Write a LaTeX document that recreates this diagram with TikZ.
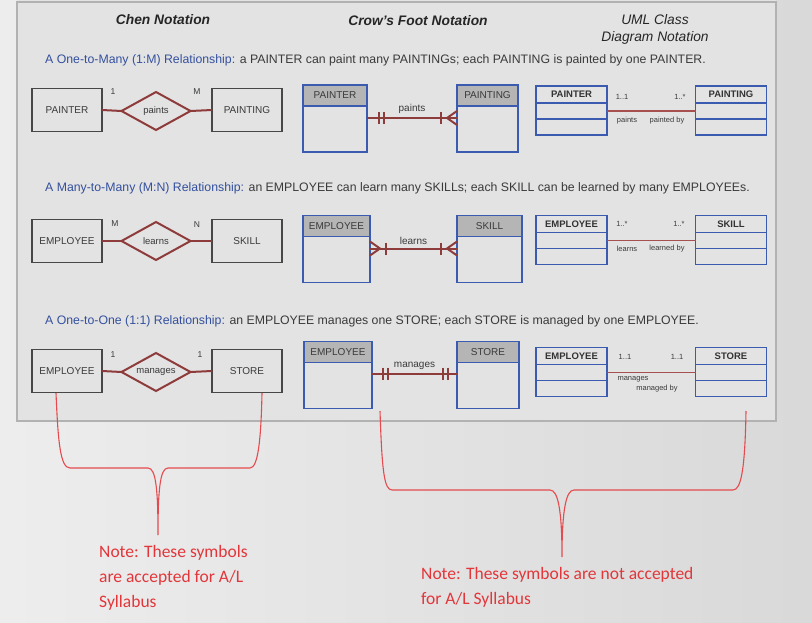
\documentclass[tikz,border=0pt]{standalone}
\usepackage{fontspec}
\setmainfont{Liberation Sans}
\newfontfamily\notefont{Carlito}
\usetikzlibrary{shapes.geometric,positioning}
\definecolor{relred}{HTML}{8E3B3B}
\definecolor{umlred}{HTML}{A65050}
\definecolor{entblue}{HTML}{3A5BB0}
\definecolor{headgray}{HTML}{B5B5B5}
\definecolor{boxgray}{HTML}{474747}
\definecolor{txtgray}{HTML}{3A3A3A}
\definecolor{titleblue}{HTML}{34509E}
\definecolor{notered}{HTML}{E2363A}
\definecolor{panelbg}{HTML}{E3E3E3}
\tikzset{
  chenbox/.style={draw=boxgray, line width=1.6pt, minimum width=70pt, minimum height=43pt,
    inner sep=0pt, outer sep=0pt, font=\fontsize{10}{11}\selectfont, text=txtgray},
  chenrel/.style={diamond, draw=relred, line width=2pt, minimum width=69pt, minimum height=38pt,
    inner sep=0pt, outer sep=0pt, aspect=1.8, font=\fontsize{9.5}{10}\selectfont, text=txtgray},
  cfhead/.style={draw=entblue, fill=headgray, line width=1.4pt, minimum height=21pt,
    inner sep=0pt, outer sep=0pt, font=\fontsize{10}{11}\selectfont, text=txtgray},
  cfbody/.style={draw=entblue, line width=1.4pt, minimum height=46pt, inner sep=0pt, outer sep=0pt},
  umlhead/.style={draw=entblue, line width=1.8pt, minimum width=71pt, minimum height=17pt,
    inner sep=0pt, outer sep=0pt, font=\bfseries\fontsize{9.5}{10}\selectfont, text=black!80},
  umlrow/.style={draw=entblue, line width=1.8pt, minimum width=71pt, minimum height=16pt,
    inner sep=0pt, outer sep=0pt},
  rel/.style={draw=relred, line width=2pt},
  cflabel/.style={above=3pt, font=\fontsize{10}{11}\selectfont, text=txtgray, inner sep=0pt},
  umlline/.style={draw=umlred, line width=1.5pt},
  mult/.style={font=\fontsize{7.5}{8}\selectfont, text=txtgray, inner sep=0pt},
  card/.style={font=\fontsize{8.5}{9}\selectfont, text=txtgray, inner sep=0pt},
  reltext/.style={anchor=west, inner sep=0pt, font=\fontsize{12.3}{13}\selectfont, text=txtgray},
  heading/.style={inner sep=0pt, font=\itshape\fontsize{13.8}{17}\selectfont, text=black!85},
  brace/.style={draw=notered!90, line width=1.1pt},
  note/.style={anchor=north west, align=left, inner sep=0pt, text=notered,
    font=\notefont\fontsize{17.5}{25}\selectfont}
}
\begin{document}
\begin{tikzpicture}[x=1pt,y=-1pt]
  \useasboundingbox (0,0) rectangle (812,623);
  % Bakgrunn
  \shade[left color=gray!14, right color=gray!30] (0,0) rectangle (812,623);
  \fill[panelbg] (17,0) rectangle (776,421);
  \draw[gray!60, line width=1.8pt] (17,2) -- (776,2) -- (776,421) -- (17,421) -- cycle;

  % Overskrifter
  \node[heading, font=\bfseries\itshape\fontsize{13.8}{17}\selectfont] (hchen) at (163,20) {Chen Notation};
  \node[heading, font=\bfseries\itshape\fontsize{13.8}{17}\selectfont] (hcf) at (418,21) {Crow’s Foot Notation};
  \node[heading, align=center] (huml) at (655,29) {UML Class\\Diagram Notation};

  % Relasjonstekster
  \node[reltext] (r1) at (45,60) {\textcolor{titleblue}{A One-to-Many (1:M) Relationship:} a PAINTER can paint many PAINTINGs; each PAINTING is painted by one PAINTER.};
  \node[reltext] (r2) at (45,188) {\textcolor{titleblue}{A Many-to-Many (M:N) Relationship:} an EMPLOYEE can learn many SKILLs; each SKILL can be learned by many EMPLOYEEs.};
  \node[reltext] (r3) at (45,321) {\textcolor{titleblue}{A One-to-One (1:1) Relationship:} an EMPLOYEE manages one STORE; each STORE is managed by one EMPLOYEE.};

  % Chen: 1:M
  \node[chenbox] (ca1) at (67,110) {PAINTER};
  \node[chenrel] (cd1) at (156,111) {paints};
  \node[chenbox] (cb1) at (247,110) {PAINTING};
  \draw[rel] (ca1.east) -- (cd1.west);
  \draw[rel] (cd1.east) -- (cb1.west);
  \node[card] at (113,92) {1};
  \node[card] at (197,92) {M};
  % Chen: M:N
  \node[chenbox] (ca2) at (67,241) {EMPLOYEE};
  \node[chenrel] (cd2) at (156,241) {learns};
  \node[chenbox] (cb2) at (247,241) {SKILL};
  \draw[rel] (ca2.east) -- (cd2.west);
  \draw[rel] (cd2.east) -- (cb2.west);
  \node[card] at (115,224) {M};
  \node[card] at (197,225) {N};
  % Chen: 1:1
  \node[chenbox] (ca3) at (67,371) {EMPLOYEE};
  \node[chenrel] (cd3) at (156,372) {manages};
  \node[chenbox] (cb3) at (247,371) {STORE};
  \draw[rel] (ca3.east) -- (cd3.west);
  \draw[rel] (cd3.east) -- (cb3.west);
  \node[card] at (113,355) {1};
  \node[card] at (200,355) {1};

  % Crow's foot: 1:M
  \node[cfhead, minimum width=64pt] (fa1) at (335,95.5) {PAINTER};
  \node[cfbody, minimum width=64pt, below=0pt of fa1] (fa1b) {};
  \node[cfhead, minimum width=61pt] (fb1) at (487.5,95.5) {PAINTING};
  \node[cfbody, minimum width=61pt, below=0pt of fb1] (fb1b) {};
  \coordinate (la1) at ([yshift=-12pt]fa1.south east);
  \coordinate (lb1) at ([yshift=-12pt]fb1.south west);
  \draw[rel] (la1) -- node[cflabel] {paints} (lb1);
  \draw[rel] ([xshift=12pt,yshift=6pt]la1) -- ([xshift=12pt,yshift=-6pt]la1);
  \draw[rel] ([xshift=17pt,yshift=6pt]la1) -- ([xshift=17pt,yshift=-6pt]la1);
  \draw[rel] ([xshift=-16pt,yshift=6pt]lb1) -- ([xshift=-16pt,yshift=-6pt]lb1);
  \draw[rel] ([yshift=7pt]lb1) -- ([xshift=-10pt]lb1) -- ([yshift=-7pt]lb1);
  % Crow's foot: M:N
  \node[cfhead, minimum width=67pt] (fa2) at (336.5,226) {EMPLOYEE};
  \node[cfbody, minimum width=67pt, below=0pt of fa2] (fa2b) {};
  \node[cfhead, minimum width=65pt] (fb2) at (489.5,226) {SKILL};
  \node[cfbody, minimum width=65pt, below=0pt of fb2] (fb2b) {};
  \coordinate (la2) at ([yshift=-12pt]fa2.south east);
  \coordinate (lb2) at ([yshift=-12pt]fb2.south west);
  \draw[rel] (la2) -- node[cflabel] {learns} (lb2);
  \draw[rel] ([yshift=7pt]la2) -- ([xshift=10pt]la2) -- ([yshift=-7pt]la2);
  \draw[rel] ([xshift=16pt,yshift=6pt]la2) -- ([xshift=16pt,yshift=-6pt]la2);
  \draw[rel] ([xshift=-16pt,yshift=6pt]lb2) -- ([xshift=-16pt,yshift=-6pt]lb2);
  \draw[rel] ([yshift=7pt]lb2) -- ([xshift=-10pt]lb2) -- ([yshift=-7pt]lb2);
  % Crow's foot: 1:1
  \node[cfhead, minimum width=68pt] (fa3) at (338,352) {EMPLOYEE};
  \node[cfbody, minimum width=68pt, below=0pt of fa3] (fa3b) {};
  \node[cfhead, minimum width=62pt] (fb3) at (488,352) {STORE};
  \node[cfbody, minimum width=62pt, below=0pt of fb3] (fb3b) {};
  \coordinate (la3) at ([yshift=-11pt]fa3.south east);
  \coordinate (lb3) at ([yshift=-11pt]fb3.south west);
  \draw[rel] (la3) -- node[cflabel] {manages} (lb3);
  \draw[rel] ([xshift=11pt,yshift=6pt]la3) -- ([xshift=11pt,yshift=-6pt]la3);
  \draw[rel] ([xshift=16pt,yshift=6pt]la3) -- ([xshift=16pt,yshift=-6pt]la3);
  \draw[rel] ([xshift=-14pt,yshift=6pt]lb3) -- ([xshift=-14pt,yshift=-6pt]lb3);
  \draw[rel] ([xshift=-9pt,yshift=6pt]lb3) -- ([xshift=-9pt,yshift=-6pt]lb3);

  % UML: 1:M
  \node[umlhead] (ua1) at (571.5,94.5) {PAINTER};
  \node[umlrow, below=0pt of ua1] (ua1a) {};
  \node[umlrow, below=0pt of ua1a] (ua1b) {};
  \node[umlhead] (ub1) at (731,94.5) {PAINTING};
  \node[umlrow, below=0pt of ub1] (ub1a) {};
  \node[umlrow, below=0pt of ub1a] (ub1b) {};
  \draw[umlline] (ua1a.east) -- (ub1a.west);
  \node[mult] at (622,97) {1..1};
  \node[mult] at (680,97) {1..*};
  \node[mult] at (627,121) {paints};
  \node[mult] at (667,121) {painted by};
  % UML: M:N
  \node[umlhead] (ua2) at (571.5,224) {EMPLOYEE};
  \node[umlrow, below=0pt of ua2] (ua2a) {};
  \node[umlrow, below=0pt of ua2a] (ua2b) {};
  \node[umlhead] (ub2) at (731,224) {SKILL};
  \node[umlrow, below=0pt of ub2] (ub2a) {};
  \node[umlrow, below=0pt of ub2a] (ub2b) {};
  \draw[umlline] (ua2a.east) -- (ub2a.west);
  \node[mult] at (622,224) {1..*};
  \node[mult] at (679,224) {1..*};
  \node[mult] at (627,249) {learns};
  \node[mult] at (667,249) {learned by};
  % UML: 1:1
  \node[umlhead] (ua3) at (571.5,356) {EMPLOYEE};
  \node[umlrow, below=0pt of ua3] (ua3a) {};
  \node[umlrow, below=0pt of ua3a] (ua3b) {};
  \node[umlhead] (ub3) at (731,356) {STORE};
  \node[umlrow, below=0pt of ub3] (ub3a) {};
  \node[umlrow, below=0pt of ub3a] (ub3b) {};
  \draw[umlline] (ua3a.east) -- (ub3a.west);
  \node[mult] at (625,357) {1..1};
  \node[mult] at (677,357) {1..1};
  \node[mult] at (633,379) {manages};
  \node[mult] at (657,388.5) {managed by};

  % Klammer
  \draw[brace] (56,393) .. controls (58,440) and (60,468) .. (70,468) -- (148,468)
    .. controls (156,468) and (158,490) .. (158,535)
    .. controls (158,490) and (160,468) .. (168,468) -- (250,468)
    .. controls (258,468) and (261,440) .. (262,393);
  \draw[brace] (380,411) .. controls (382,470) and (384,490) .. (392,490) -- (550,490)
    .. controls (558,490) and (562,510) .. (562,557)
    .. controls (562,510) and (566,490) .. (574,490) -- (733,490)
    .. controls (741,490) and (745,470) .. (746,411);

  % Merknader
  \node[note] (n1) at (99,545) {Note: These symbols\\are accepted for A/L\\Syllabus};
  \node[note] (n2) at (421,567) {Note: These symbols are not accepted\\for A/L Syllabus};
\end{tikzpicture}
\end{document}
